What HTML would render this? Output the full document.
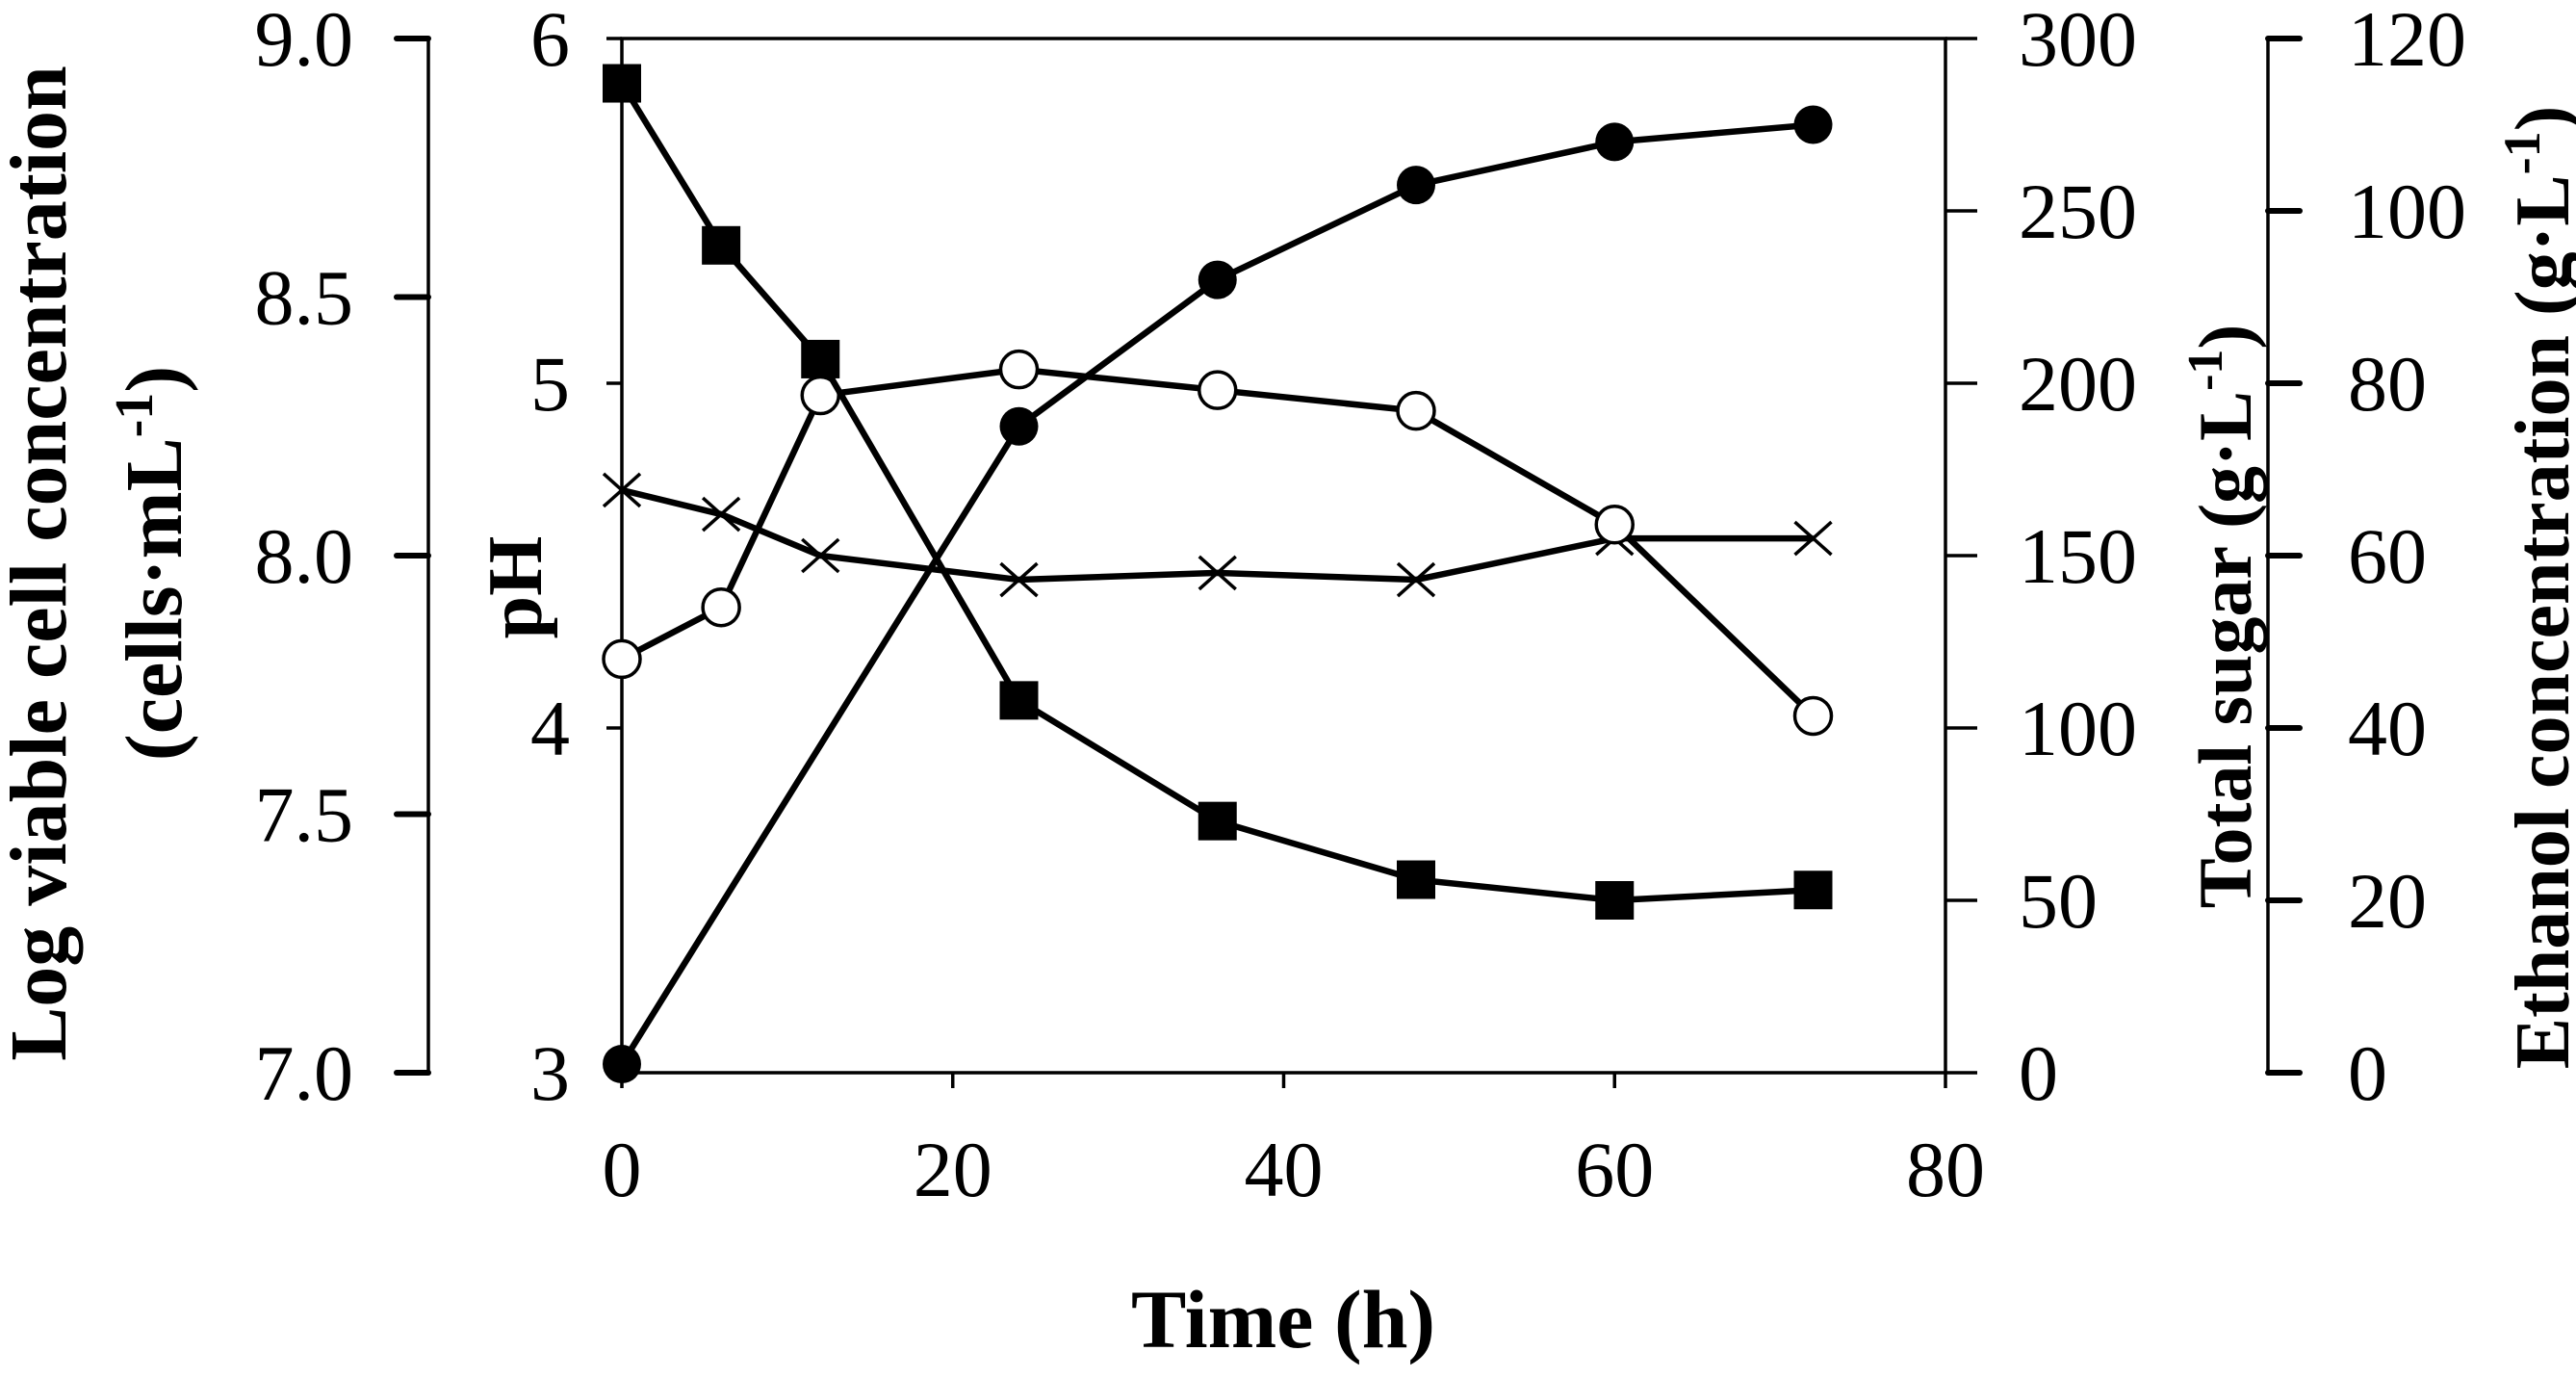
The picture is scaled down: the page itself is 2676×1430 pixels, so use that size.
<!DOCTYPE html>
<html><head><meta charset="utf-8"><style>
html,body{margin:0;padding:0;background:#fff}
svg{display:block;font-family:"Liberation Serif",serif}
</style></head><body>
<svg id="chart" width="2676" height="1430" viewBox="0 0 2676 1430" xmlns="http://www.w3.org/2000/svg">
<g id="axes"></g>
<g id="series"></g>
<text x="1333" y="1399" font-size="86" font-weight="bold" text-anchor="middle">Time (h)</text>
<text transform="translate(68,585) rotate(-90)" font-size="84" font-weight="bold" text-anchor="middle">Log viable cell concentration</text>
<text transform="translate(188,585) rotate(-90)" font-size="84" font-weight="bold" text-anchor="middle">(cells·mL<tspan dy="-30" font-size="56">-1</tspan><tspan dy="30">)</tspan></text>
<text transform="translate(562,610) rotate(-90)" font-size="80" font-weight="bold" text-anchor="middle">pH</text>
<text transform="translate(2338,640) rotate(-90)" font-size="78" font-weight="bold" text-anchor="middle">Total sugar (g·L<tspan dy="-30" font-size="52">-1</tspan><tspan dy="30">)</tspan></text>
<text transform="translate(2668,610) rotate(-90)" font-size="80" font-weight="bold" text-anchor="middle">Ethanol concentration (g·L<tspan dy="-30" font-size="54">-1</tspan><tspan dy="30">)</tspan></text>
</svg>
<script>
const times = [0, 6, 12, 24, 36, 48, 60, 72];
const sugar = [287, 240, 207, 108, 73, 56, 50, 53];
const ethanol = [1, null, null, 75, 92, 103, 108, 110];
const logCells = [7.80, 7.90, 8.31, 8.36, 8.32, 8.28, 8.06, 7.69];
const ph = [4.69, 4.62, 4.50, 4.43, 4.45, 4.43, 4.55, 4.55];
const xTicks = [0, 20, 40, 60, 80];
const phTicks = [3, 4, 5, 6];
const logTicks = ["7.0", "7.5", "8.0", "8.5", "9.0"];
const sugarTicks = [0, 50, 100, 150, 200, 250, 300];
const ethTicks = [0, 20, 40, 60, 80, 100, 120];

const L = 646, R = 2021, T = 40, B = 1114;
const X = t => L + (R - L) * t / 80;
const yPh = v => B - (B - T) * (v - 3) / 3;
const yLog = v => B - (B - T) * (v - 7) / 2;
const ySug = v => B - (B - T) * v / 300;
const yEth = v => B - (B - T) * v / 120;
const NS = "http://www.w3.org/2000/svg";
const axes = document.getElementById('axes');
const ser = document.getElementById('series');
function mk(tag, attrs, parent) {
  const e = document.createElementNS(NS, tag);
  for (const k in attrs) e.setAttribute(k, attrs[k]);
  parent.appendChild(e);
  return e;
}
function line(x1, y1, x2, y2, w, parent, cap) {
  return mk('line', {x1, y1, x2, y2, stroke: '#000', 'stroke-width': w, 'stroke-linecap': cap || 'butt'}, parent);
}
function txt(x, y, s, anchor, parent) {
  const e = mk('text', {x, y, 'font-size': 82, 'text-anchor': anchor}, parent);
  e.textContent = s;
  return e;
}
let e = mk('rect', {x: L, y: T, width: R - L, height: B - T, fill: 'none', stroke: '#000', 'stroke-width': 3.5}, axes);


xTicks.forEach(t => {
  let l = line(X(t), B, X(t), B + 16, 3.5, axes);
  
  
  let tx = txt(X(t), B + 128, String(t), 'middle', axes);
  
  
});
phTicks.forEach(v => {
  let l = line(L - 16, yPh(v), L, yPh(v), 3.5, axes);
  
  
  let tx = txt(592, yPh(v) + 28, String(v), 'end', axes);
  
  
});
e = line(445, T, 445, B, 3.5, axes);


logTicks.forEach(s => {
  const y = yLog(parseFloat(s));
  let l = line(412, y, 445, y, 6, axes, 'round');
  
  
  let tx = txt(367, y + 28, s, 'end', axes);
  
  
});
sugarTicks.forEach(v => {
  let l = line(R, ySug(v), 2054, ySug(v), 3.5, axes);
  
  
  let tx = txt(2097, ySug(v) + 28, String(v), 'start', axes);
  
  
});
e = line(2356, T, 2356, B, 3.5, axes);


ethTicks.forEach(v => {
  let l = line(2356, yEth(v), 2389, yEth(v), 6, axes, 'round');
  
  
  let tx = txt(2439, yEth(v) + 28, String(v), 'start', axes);
  
  
});
function poly(vals, yf, name) {
  const pts = [];
  vals.forEach((v, i) => { if (v !== null) pts.push([X(times[i]), yf(v)]); });
  const p = mk('polyline', {points: pts.map(p => p.join(',')).join(' '), fill: 'none', stroke: '#000', 'stroke-width': 6.5, 'stroke-linejoin': 'round'}, ser);
  
  
  return pts;
}
poly(ph, yPh, 'ph-line').forEach(([x, y]) => {
  const g = mk('g', {}, ser);
  
  
  line(x - 19, y - 17, x + 19, y + 17, 3.5, g);
  line(x - 19, y + 17, x + 19, y - 17, 3.5, g);
});
poly(logCells, yLog, 'log-cell-line').forEach(([x, y]) => {
  const c = mk('circle', {cx: x, cy: y, r: 19, fill: '#fff', stroke: '#000', 'stroke-width': 3.5}, ser);
  
  
});
poly(sugar, ySug, 'sugar-line').forEach(([x, y]) => {
  const r = mk('rect', {x: x - 20, y: y - 20, width: 40, height: 40, fill: '#000'}, ser);
  
  
});
poly(ethanol, yEth, 'ethanol-line').forEach(([x, y]) => {
  const c = mk('circle', {cx: x, cy: y, r: 20, fill: '#000'}, ser);
  
  
});
</script>
</body></html>
